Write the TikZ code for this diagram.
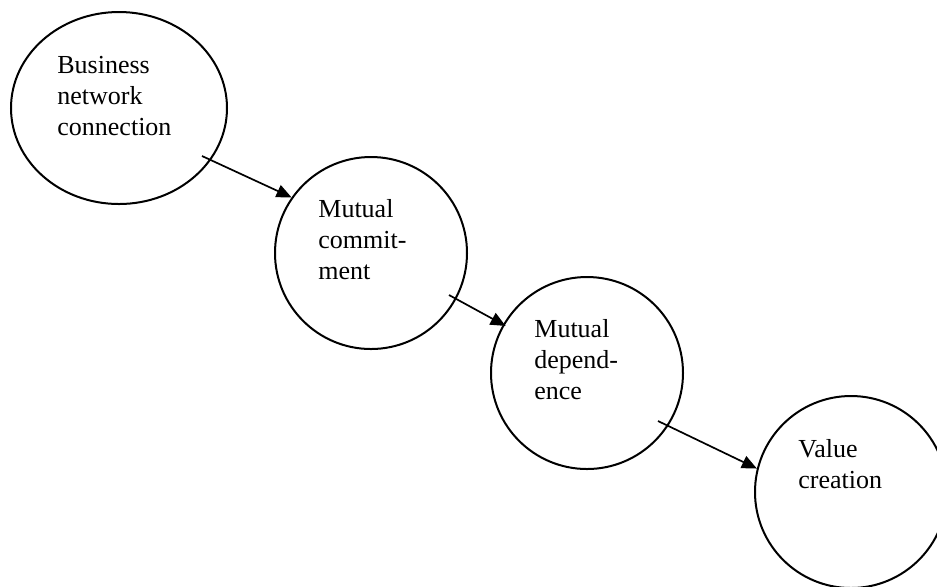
\documentclass[tikz,border=0pt]{standalone}
\usepackage{fontspec}
\setmainfont{Liberation Serif}
\usetikzlibrary{shapes.geometric,arrows.meta}
\begin{document}
\begin{tikzpicture}[x=0.5pt,y=-0.5pt,
  stage/.style={draw=black, line width=1pt, ellipse, inner sep=0pt,
    minimum width=96pt, minimum height=96pt},
  stagetext/.style={anchor=north west, align=left, inner sep=0pt,
    font=\fontsize{13pt}{15.5pt}\selectfont},
  flow/.style={line width=0.85pt, -{Triangle[length=7.5pt,width=6.5pt]}}]
\useasboundingbox (0,0) rectangle (937,586);

% stages of the chain
\node[stage, minimum width=108pt] (e1) at (119,108) {};
\node[stage] (e2) at (371,253) {};
\node[stage] (e3) at (587,373) {};
\node[stage] (e4) at (851,492) {};

% stage captions
\node[stagetext] (t1) at (57,56)  {Business\\network\\connection};
\node[stagetext] (t2) at (318,199) {Mutual\\commit-\\ment};
\node[stagetext] (t3) at (534,319) {Mutual\\depend-\\ence};
\node[stagetext] (t4) at (798,439) {Value\\creation};

% arrows start just inside one stage and end on the next
\coordinate (s1) at (202,156);
\coordinate (s2) at (449,295);
\coordinate (s3) at (658,421);
\draw[flow] (s1) -- (e2.145);
\draw[flow, shorten >=-1.5pt] (s2) -- (e3.150);
\draw[flow] (s3) -- (e4.166);
\end{tikzpicture}
\end{document}
